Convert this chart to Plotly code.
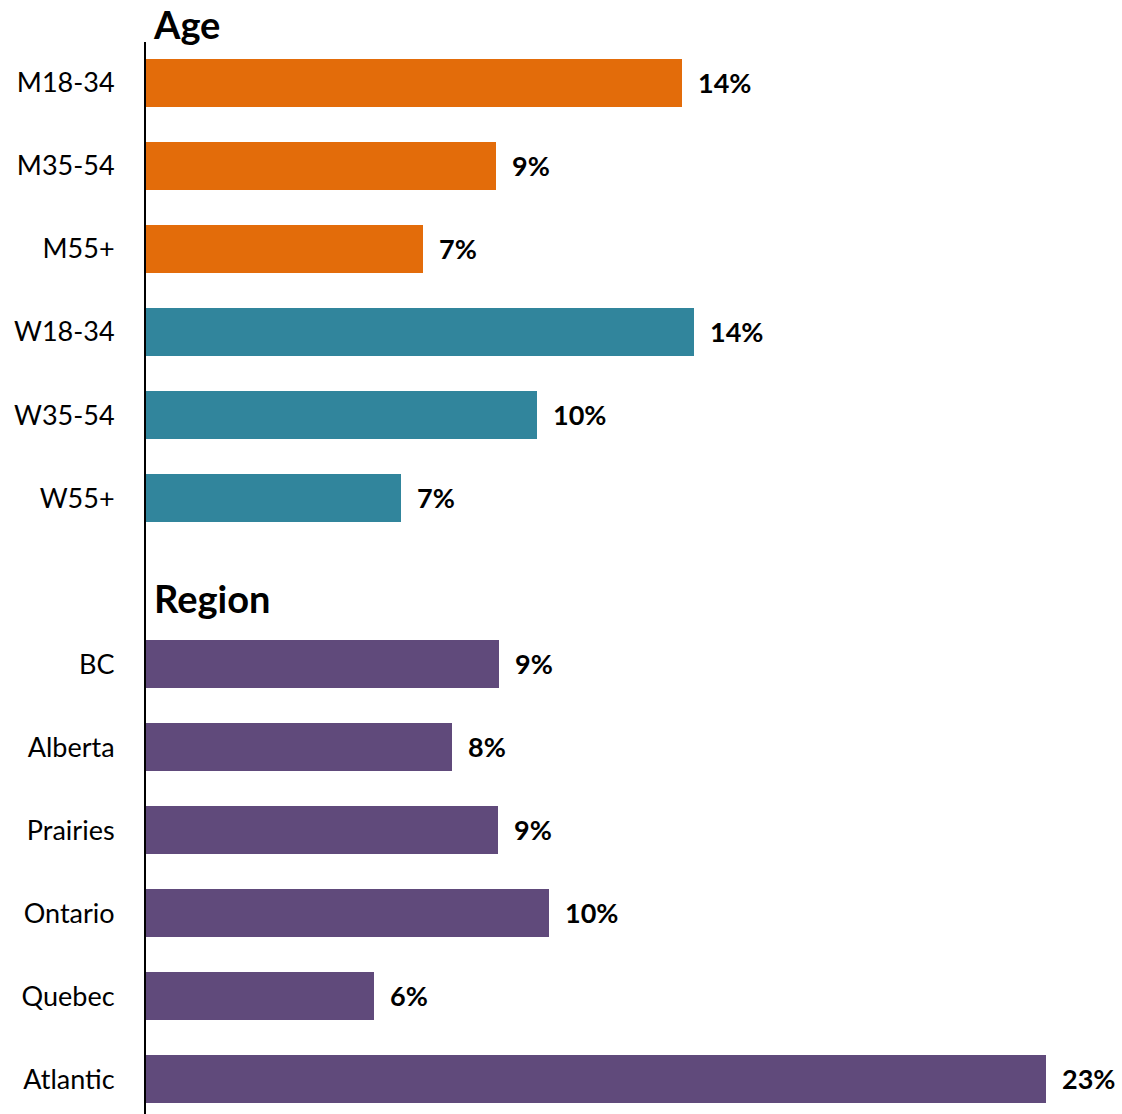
import plotly.graph_objects as go

# Share of respondents by group (percent)
age_groups = ["M18-34", "M35-54", "M55+", "W18-34", "W35-54", "W55+"]
age_values = [13.7, 8.95, 7.08, 14.0, 10.0, 6.52]
age_colors = ["#E36C0A", "#E36C0A", "#E36C0A", "#31859C", "#31859C", "#31859C"]

regions = ["BC", "Alberta", "Prairies", "Ontario", "Quebec", "Atlantic"]
region_values = [9.03, 7.83, 9.0, 10.3, 5.83, 23.0]
region_color = "#604A7B"

section_titles = ["Age", "Region"]

# Row slots: six age rows, one blank slot for the Region heading, six region rows
age_pos = list(range(0, 6))
region_pos = list(range(7, 13))

FONT = "Lato, Open Sans, sans-serif"
LABEL_FONT = dict(family=FONT, size=27, color="#000000", weight="bold")
HEAD_FONT = dict(family=FONT, size=38, color="#000000", weight="bold")

fig = go.Figure()
fig.add_trace(go.Bar(
    x=age_values, y=age_pos, orientation="h",
    marker=dict(color=age_colors, line=dict(width=0)),
    width=0.58, hoverinfo="skip",
))
fig.add_trace(go.Bar(
    x=region_values, y=region_pos, orientation="h",
    marker=dict(color=region_color, line=dict(width=0)),
    width=0.58, hoverinfo="skip",
))

# Value labels to the right of each bar, rounded to whole percent
for vals, poss in [(age_values, age_pos), (region_values, region_pos)]:
    for v, p in zip(vals, poss):
        fig.add_annotation(
            x=v, y=p, xref="x", yref="y", text=f"{v:.0f}%",
            showarrow=False, xanchor="left", yanchor="middle", xshift=14, yshift=1,
            font=LABEL_FONT,
        )

# Section headings
fig.add_annotation(
    x=0, y=1.0, xref="x", yref="paper", text=section_titles[0], showarrow=False,
    xanchor="left", yanchor="bottom", xshift=6, yshift=-6, borderpad=0,
    font=HEAD_FONT,
)
fig.add_annotation(
    x=0, y=6.2, xref="x", yref="y", text=section_titles[1], showarrow=False,
    xanchor="left", yanchor="middle", xshift=6,
    font=HEAD_FONT,
)

fig.update_layout(
    width=1122, height=1114,
    margin=dict(l=146, r=0, t=42, b=0),
    paper_bgcolor="white", plot_bgcolor="white",
    showlegend=False,
    bargap=0,
)
fig.update_xaxes(
    range=[0, 24.94], showgrid=False, zeroline=False,
    showticklabels=False, showline=False, fixedrange=True,
)
fig.update_yaxes(
    range=[12.42, -0.494], showgrid=False, zeroline=False,
    tickvals=age_pos + region_pos, ticktext=age_groups + regions,
    tickfont=dict(family=FONT, size=27, color="#000000"),
    ticks="outside", ticklen=24, tickcolor="rgba(0,0,0,0)",
    showline=True, linecolor="#000000", linewidth=2,
    fixedrange=True,
)

fig.write_html("out.html")
